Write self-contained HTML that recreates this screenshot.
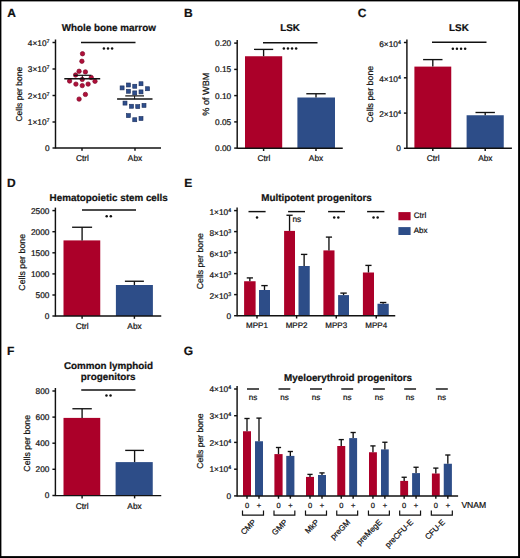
<!DOCTYPE html>
<html><head><meta charset="utf-8"><style>
html,body{margin:0;padding:0;background:#fff;}
svg{display:block;}
text{font-family:"Liberation Sans",sans-serif;fill:#111;stroke:#111;stroke-width:0.22px;text-rendering:geometricPrecision;}
</style></head><body>
<svg width="520" height="558" viewBox="0 0 520 558">
<rect width="520" height="558" fill="#fff"/>
<rect x="0" y="0" width="520" height="1.4" fill="#000"/>
<rect x="0" y="0" width="1.4" height="558" fill="#000"/>
<rect x="518.1" y="0" width="1.9" height="558" fill="#000"/>
<rect x="0" y="556.1" width="520" height="1.9" fill="#000"/>
<text x="7.3" y="16.5" font-size="12" text-anchor="start" font-weight="bold" >A</text>
<text x="108.85" y="31.2" font-size="9.85" text-anchor="middle" font-weight="bold" >Whole bone marrow</text>
<line x1="55.5" y1="39.5" x2="55.5" y2="148.6" stroke="#111" stroke-width="1.45"/>
<line x1="52.5" y1="42.5" x2="55.5" y2="42.5" stroke="#111" stroke-width="1.45"/>
<text x="49.5" y="45.7" font-size="8.3" text-anchor="end">4×10<tspan font-size="5.3" dy="-3.0">7</tspan></text>
<line x1="52.5" y1="69" x2="55.5" y2="69" stroke="#111" stroke-width="1.45"/>
<text x="49.5" y="72.2" font-size="8.3" text-anchor="end">3×10<tspan font-size="5.3" dy="-3.0">7</tspan></text>
<line x1="52.5" y1="95.5" x2="55.5" y2="95.5" stroke="#111" stroke-width="1.45"/>
<text x="49.5" y="98.7" font-size="8.3" text-anchor="end">2×10<tspan font-size="5.3" dy="-3.0">7</tspan></text>
<line x1="52.5" y1="122" x2="55.5" y2="122" stroke="#111" stroke-width="1.45"/>
<text x="49.5" y="125.2" font-size="8.3" text-anchor="end">1×10<tspan font-size="5.3" dy="-3.0">7</tspan></text>
<line x1="52.5" y1="148" x2="55.5" y2="148" stroke="#111" stroke-width="1.45"/>
<text x="49.5" y="150.9" font-size="8.3" text-anchor="end" font-weight="normal" >0</text>
<line x1="55.5" y1="148" x2="161" y2="148" stroke="#111" stroke-width="1.45"/>
<line x1="82" y1="148" x2="82" y2="150.8" stroke="#111" stroke-width="1.45"/>
<line x1="135" y1="148" x2="135" y2="150.8" stroke="#111" stroke-width="1.45"/>
<text x="82.5" y="160.9" font-size="8.3" text-anchor="middle" font-weight="normal" >Ctrl</text>
<text x="135" y="160.9" font-size="8.3" text-anchor="middle" font-weight="normal" >Abx</text>
<text x="0" y="0" font-size="8.5" text-anchor="middle" transform="translate(21.9,94.2) rotate(-90)">Cells per bone</text>
<line x1="81" y1="42.5" x2="135.5" y2="42.5" stroke="#111" stroke-width="1.45"/>
<circle cx="103.90" cy="48.4" r="1.25" fill="#111"/>
<circle cx="108.00" cy="48.4" r="1.25" fill="#111"/>
<circle cx="112.10" cy="48.4" r="1.25" fill="#111"/>
<circle cx="82.5" cy="53.75" r="2.2" fill="#b0103a" stroke="#80082a" stroke-width="0.7"/>
<circle cx="81.9" cy="61.25" r="2.2" fill="#b0103a" stroke="#80082a" stroke-width="0.7"/>
<circle cx="79.1" cy="71.25" r="2.2" fill="#b0103a" stroke="#80082a" stroke-width="0.7"/>
<circle cx="85.4" cy="71.9" r="2.2" fill="#b0103a" stroke="#80082a" stroke-width="0.7"/>
<circle cx="75.6" cy="75" r="2.2" fill="#b0103a" stroke="#80082a" stroke-width="0.7"/>
<circle cx="91.25" cy="77.5" r="2.2" fill="#b0103a" stroke="#80082a" stroke-width="0.7"/>
<circle cx="69.6" cy="81" r="2.2" fill="#b0103a" stroke="#80082a" stroke-width="0.7"/>
<circle cx="82.25" cy="79.4" r="2.2" fill="#b0103a" stroke="#80082a" stroke-width="0.7"/>
<circle cx="95" cy="81.25" r="2.2" fill="#b0103a" stroke="#80082a" stroke-width="0.7"/>
<circle cx="75.9" cy="84.1" r="2.2" fill="#b0103a" stroke="#80082a" stroke-width="0.7"/>
<circle cx="82.25" cy="85.6" r="2.2" fill="#b0103a" stroke="#80082a" stroke-width="0.7"/>
<circle cx="88.1" cy="84.1" r="2.2" fill="#b0103a" stroke="#80082a" stroke-width="0.7"/>
<circle cx="85.4" cy="94.4" r="2.2" fill="#b0103a" stroke="#80082a" stroke-width="0.7"/>
<circle cx="79.1" cy="99.1" r="2.2" fill="#b0103a" stroke="#80082a" stroke-width="0.7"/>
<rect x="120.10" y="85.90" width="4.0" height="4.0" fill="#2e4e8c" stroke="#1c2f5c" stroke-width="0.6"/>
<rect x="126.40" y="83.00" width="4.0" height="4.0" fill="#2e4e8c" stroke="#1c2f5c" stroke-width="0.6"/>
<rect x="132.75" y="84.25" width="4.0" height="4.0" fill="#2e4e8c" stroke="#1c2f5c" stroke-width="0.6"/>
<rect x="139.00" y="81.75" width="4.0" height="4.0" fill="#2e4e8c" stroke="#1c2f5c" stroke-width="0.6"/>
<rect x="145.50" y="86.75" width="4.0" height="4.0" fill="#2e4e8c" stroke="#1c2f5c" stroke-width="0.6"/>
<rect x="126.40" y="89.25" width="4.0" height="4.0" fill="#2e4e8c" stroke="#1c2f5c" stroke-width="0.6"/>
<rect x="132.75" y="90.90" width="4.0" height="4.0" fill="#2e4e8c" stroke="#1c2f5c" stroke-width="0.6"/>
<rect x="139.00" y="89.90" width="4.0" height="4.0" fill="#2e4e8c" stroke="#1c2f5c" stroke-width="0.6"/>
<rect x="123.00" y="101.10" width="4.0" height="4.0" fill="#2e4e8c" stroke="#1c2f5c" stroke-width="0.6"/>
<rect x="129.50" y="104.25" width="4.0" height="4.0" fill="#2e4e8c" stroke="#1c2f5c" stroke-width="0.6"/>
<rect x="135.75" y="104.60" width="4.0" height="4.0" fill="#2e4e8c" stroke="#1c2f5c" stroke-width="0.6"/>
<rect x="142.00" y="103.40" width="4.0" height="4.0" fill="#2e4e8c" stroke="#1c2f5c" stroke-width="0.6"/>
<rect x="126.40" y="113.60" width="4.0" height="4.0" fill="#2e4e8c" stroke="#1c2f5c" stroke-width="0.6"/>
<rect x="132.75" y="117.75" width="4.0" height="4.0" fill="#2e4e8c" stroke="#1c2f5c" stroke-width="0.6"/>
<rect x="139.00" y="116.50" width="4.0" height="4.0" fill="#2e4e8c" stroke="#1c2f5c" stroke-width="0.6"/>
<line x1="64.3" y1="78.7" x2="100.2" y2="78.7" stroke="#111" stroke-width="1.5"/>
<line x1="74" y1="75.3" x2="91.2" y2="75.3" stroke="#111" stroke-width="1.2"/>
<line x1="82.3" y1="75.3" x2="82.3" y2="78.7" stroke="#111" stroke-width="1.0"/>
<line x1="117.1" y1="99.1" x2="152.5" y2="99.1" stroke="#111" stroke-width="1.5"/>
<line x1="125.25" y1="95.9" x2="144" y2="95.9" stroke="#111" stroke-width="1.2"/>
<line x1="134.6" y1="95.9" x2="134.6" y2="99.1" stroke="#111" stroke-width="1.0"/>
<text x="184.05" y="16.5" font-size="12" text-anchor="start" font-weight="bold" >B</text>
<text x="290" y="31.2" font-size="9.85" text-anchor="middle" font-weight="bold" >LSK</text>
<line x1="237.2" y1="40.1" x2="237.2" y2="148.79999999999998" stroke="#111" stroke-width="1.45"/>
<line x1="234.2" y1="43.1" x2="237.2" y2="43.1" stroke="#111" stroke-width="1.45"/>
<text x="231.2" y="46.0" font-size="8.3" text-anchor="end" font-weight="normal" >0.20</text>
<line x1="234.2" y1="69.4" x2="237.2" y2="69.4" stroke="#111" stroke-width="1.45"/>
<text x="231.2" y="72.30000000000001" font-size="8.3" text-anchor="end" font-weight="normal" >0.15</text>
<line x1="234.2" y1="95.6" x2="237.2" y2="95.6" stroke="#111" stroke-width="1.45"/>
<text x="231.2" y="98.5" font-size="8.3" text-anchor="end" font-weight="normal" >0.10</text>
<line x1="234.2" y1="121.9" x2="237.2" y2="121.9" stroke="#111" stroke-width="1.45"/>
<text x="231.2" y="124.80000000000001" font-size="8.3" text-anchor="end" font-weight="normal" >0.05</text>
<line x1="234.2" y1="148.1" x2="237.2" y2="148.1" stroke="#111" stroke-width="1.45"/>
<text x="231.2" y="151.0" font-size="8.3" text-anchor="end" font-weight="normal" >0.00</text>
<rect x="245" y="56.25" width="37.20" height="91.95" fill="#ab0029"/>
<rect x="297.4" y="97.5" width="37.60" height="50.70" fill="#2d4d88"/>
<line x1="263.6" y1="56.25" x2="263.6" y2="49.4" stroke="#111" stroke-width="1.35"/>
<line x1="254.00000000000003" y1="49.4" x2="273.20000000000005" y2="49.4" stroke="#111" stroke-width="1.35"/>
<line x1="316" y1="97.5" x2="316" y2="93.75" stroke="#111" stroke-width="1.35"/>
<line x1="306.3" y1="93.75" x2="325.7" y2="93.75" stroke="#111" stroke-width="1.35"/>
<line x1="237.2" y1="148.2" x2="342.75" y2="148.2" stroke="#111" stroke-width="1.45"/>
<line x1="263.6" y1="148.2" x2="263.6" y2="151.0" stroke="#111" stroke-width="1.45"/>
<line x1="316" y1="148.2" x2="316" y2="151.0" stroke="#111" stroke-width="1.45"/>
<text x="264.0" y="161.0" font-size="8.3" text-anchor="middle" font-weight="normal" >Ctrl</text>
<text x="316" y="161.0" font-size="8.3" text-anchor="middle" font-weight="normal" >Abx</text>
<text x="0" y="0" font-size="9.1" text-anchor="middle" transform="translate(209.2,94.2) rotate(-90)">% of WBM</text>
<line x1="263" y1="42.75" x2="317.5" y2="42.75" stroke="#111" stroke-width="1.45"/>
<circle cx="283.85" cy="48.5" r="1.25" fill="#111"/>
<circle cx="287.95" cy="48.5" r="1.25" fill="#111"/>
<circle cx="292.05" cy="48.5" r="1.25" fill="#111"/>
<circle cx="296.15" cy="48.5" r="1.25" fill="#111"/>
<text x="357.85" y="16.5" font-size="12" text-anchor="start" font-weight="bold" >C</text>
<text x="458.9" y="31.2" font-size="9.85" text-anchor="middle" font-weight="bold" >LSK</text>
<line x1="406.9" y1="39.5" x2="406.9" y2="148.9" stroke="#111" stroke-width="1.45"/>
<line x1="403.9" y1="42.5" x2="406.9" y2="42.5" stroke="#111" stroke-width="1.45"/>
<text x="400.9" y="46.6" font-size="8.3" text-anchor="end">6×10<tspan font-size="5.3" dy="-3.0">4</tspan></text>
<line x1="403.9" y1="77.8" x2="406.9" y2="77.8" stroke="#111" stroke-width="1.45"/>
<text x="400.9" y="81.9" font-size="8.3" text-anchor="end">4×10<tspan font-size="5.3" dy="-3.0">4</tspan></text>
<line x1="403.9" y1="113.1" x2="406.9" y2="113.1" stroke="#111" stroke-width="1.45"/>
<text x="400.9" y="117.2" font-size="8.3" text-anchor="end">2×10<tspan font-size="5.3" dy="-3.0">4</tspan></text>
<line x1="403.9" y1="148.3" x2="406.9" y2="148.3" stroke="#111" stroke-width="1.45"/>
<text x="400.9" y="151.20000000000002" font-size="8.3" text-anchor="end" font-weight="normal" >0</text>
<rect x="414.4" y="66.6" width="36.85" height="81.70" fill="#ab0029"/>
<rect x="466.6" y="115.25" width="37.15" height="33.05" fill="#2d4d88"/>
<line x1="432.8" y1="66.6" x2="432.8" y2="59.6" stroke="#111" stroke-width="1.35"/>
<line x1="423.1" y1="59.6" x2="442.5" y2="59.6" stroke="#111" stroke-width="1.35"/>
<line x1="485.2" y1="115.25" x2="485.2" y2="112.5" stroke="#111" stroke-width="1.35"/>
<line x1="475.5" y1="112.5" x2="494.9" y2="112.5" stroke="#111" stroke-width="1.35"/>
<line x1="406.9" y1="148.3" x2="511.9" y2="148.3" stroke="#111" stroke-width="1.45"/>
<line x1="432.8" y1="148.3" x2="432.8" y2="151.10000000000002" stroke="#111" stroke-width="1.45"/>
<line x1="485.2" y1="148.3" x2="485.2" y2="151.10000000000002" stroke="#111" stroke-width="1.45"/>
<text x="433.2" y="161.0" font-size="8.3" text-anchor="middle" font-weight="normal" >Ctrl</text>
<text x="485.3" y="161.0" font-size="8.3" text-anchor="middle" font-weight="normal" >Abx</text>
<text x="0" y="0" font-size="8.8" text-anchor="middle" transform="translate(373.3,94.2) rotate(-90)">Cells per bone</text>
<line x1="432" y1="42.3" x2="486.5" y2="42.3" stroke="#111" stroke-width="1.45"/>
<circle cx="452.85" cy="48.75" r="1.25" fill="#111"/>
<circle cx="456.95" cy="48.75" r="1.25" fill="#111"/>
<circle cx="461.05" cy="48.75" r="1.25" fill="#111"/>
<circle cx="465.15" cy="48.75" r="1.25" fill="#111"/>
<text x="7.0" y="186.6" font-size="12" text-anchor="start" font-weight="bold" >D</text>
<text x="108.7" y="201" font-size="9.85" text-anchor="middle" font-weight="bold" >Hematopoietic stem cells</text>
<line x1="55.4" y1="207.6" x2="55.4" y2="316.6" stroke="#111" stroke-width="1.45"/>
<line x1="52.4" y1="210.6" x2="55.4" y2="210.6" stroke="#111" stroke-width="1.45"/>
<text x="49.4" y="213.5" font-size="8.3" text-anchor="end" font-weight="normal" >2500</text>
<line x1="52.4" y1="231.7" x2="55.4" y2="231.7" stroke="#111" stroke-width="1.45"/>
<text x="49.4" y="234.6" font-size="8.3" text-anchor="end" font-weight="normal" >2000</text>
<line x1="52.4" y1="252.8" x2="55.4" y2="252.8" stroke="#111" stroke-width="1.45"/>
<text x="49.4" y="255.70000000000002" font-size="8.3" text-anchor="end" font-weight="normal" >1500</text>
<line x1="52.4" y1="273.9" x2="55.4" y2="273.9" stroke="#111" stroke-width="1.45"/>
<text x="49.4" y="276.79999999999995" font-size="8.3" text-anchor="end" font-weight="normal" >1000</text>
<line x1="52.4" y1="295" x2="55.4" y2="295" stroke="#111" stroke-width="1.45"/>
<text x="49.4" y="297.9" font-size="8.3" text-anchor="end" font-weight="normal" >500</text>
<line x1="52.4" y1="316" x2="55.4" y2="316" stroke="#111" stroke-width="1.45"/>
<text x="49.4" y="318.9" font-size="8.3" text-anchor="end" font-weight="normal" >0</text>
<rect x="63.5" y="240.4" width="36.75" height="75.60" fill="#ab0029"/>
<rect x="115.9" y="285" width="37.00" height="31.00" fill="#2d4d88"/>
<line x1="82.1" y1="240.4" x2="82.1" y2="227.25" stroke="#111" stroke-width="1.35"/>
<line x1="72.1" y1="227.25" x2="92.1" y2="227.25" stroke="#111" stroke-width="1.35"/>
<line x1="134.4" y1="285" x2="134.4" y2="281.25" stroke="#111" stroke-width="1.35"/>
<line x1="124.9" y1="281.25" x2="143.9" y2="281.25" stroke="#111" stroke-width="1.35"/>
<line x1="55.4" y1="316" x2="161.25" y2="316" stroke="#111" stroke-width="1.45"/>
<line x1="82.1" y1="316" x2="82.1" y2="318.8" stroke="#111" stroke-width="1.45"/>
<line x1="134.4" y1="316" x2="134.4" y2="318.8" stroke="#111" stroke-width="1.45"/>
<text x="82.2" y="329.0" font-size="8.3" text-anchor="middle" font-weight="normal" >Ctrl</text>
<text x="134.5" y="329.0" font-size="8.3" text-anchor="middle" font-weight="normal" >Abx</text>
<text x="0" y="0" font-size="8.8" text-anchor="middle" transform="translate(25.2,262.3) rotate(-90)">Cells per bone</text>
<line x1="82" y1="210" x2="136" y2="210" stroke="#111" stroke-width="1.45"/>
<circle cx="106.70" cy="216.25" r="1.25" fill="#111"/>
<circle cx="110.80" cy="216.25" r="1.25" fill="#111"/>
<text x="184.25" y="186.7" font-size="12" text-anchor="start" font-weight="bold" >E</text>
<text x="316.5" y="201.25" font-size="9.85" text-anchor="middle" font-weight="bold" >Multipotent progenitors</text>
<line x1="237.1" y1="207.6" x2="237.1" y2="316.3" stroke="#111" stroke-width="1.45"/>
<line x1="234.1" y1="210.6" x2="237.1" y2="210.6" stroke="#111" stroke-width="1.45"/>
<text x="231.1" y="214.7" font-size="8.3" text-anchor="end">1×10<tspan font-size="5.3" dy="-3.0">4</tspan></text>
<line x1="234.1" y1="231.6" x2="237.1" y2="231.6" stroke="#111" stroke-width="1.45"/>
<text x="231.1" y="235.7" font-size="8.3" text-anchor="end">8×10<tspan font-size="5.3" dy="-3.0">3</tspan></text>
<line x1="234.1" y1="252.6" x2="237.1" y2="252.6" stroke="#111" stroke-width="1.45"/>
<text x="231.1" y="256.7" font-size="8.3" text-anchor="end">6×10<tspan font-size="5.3" dy="-3.0">3</tspan></text>
<line x1="234.1" y1="273.6" x2="237.1" y2="273.6" stroke="#111" stroke-width="1.45"/>
<text x="231.1" y="277.7" font-size="8.3" text-anchor="end">4×10<tspan font-size="5.3" dy="-3.0">3</tspan></text>
<line x1="234.1" y1="294.6" x2="237.1" y2="294.6" stroke="#111" stroke-width="1.45"/>
<text x="231.1" y="298.7" font-size="8.3" text-anchor="end">2×10<tspan font-size="5.3" dy="-3.0">3</tspan></text>
<line x1="234.1" y1="315.7" x2="237.1" y2="315.7" stroke="#111" stroke-width="1.45"/>
<text x="231.1" y="318.59999999999997" font-size="8.3" text-anchor="end" font-weight="normal" >0</text>
<rect x="244.1" y="281.25" width="11.50" height="34.45" fill="#ab0029"/>
<rect x="259" y="290" width="11.00" height="25.70" fill="#2d4d88"/>
<line x1="249.85" y1="281.25" x2="249.85" y2="277.9" stroke="#111" stroke-width="1.35"/>
<line x1="246.75" y1="277.9" x2="252.95" y2="277.9" stroke="#111" stroke-width="1.35"/>
<line x1="264.5" y1="290" x2="264.5" y2="285.6" stroke="#111" stroke-width="1.35"/>
<line x1="261.3" y1="285.6" x2="267.7" y2="285.6" stroke="#111" stroke-width="1.35"/>
<rect x="284.1" y="230.9" width="10.90" height="84.80" fill="#ab0029"/>
<rect x="298.5" y="266" width="11.25" height="49.70" fill="#2d4d88"/>
<line x1="289.55" y1="230.9" x2="289.55" y2="215.25" stroke="#111" stroke-width="1.35"/>
<line x1="286.45" y1="215.25" x2="292.65000000000003" y2="215.25" stroke="#111" stroke-width="1.35"/>
<line x1="304.125" y1="266" x2="304.125" y2="254.4" stroke="#111" stroke-width="1.35"/>
<line x1="300.925" y1="254.4" x2="307.325" y2="254.4" stroke="#111" stroke-width="1.35"/>
<rect x="323.4" y="250.4" width="11.10" height="65.30" fill="#ab0029"/>
<rect x="338.1" y="295.1" width="10.90" height="20.60" fill="#2d4d88"/>
<line x1="328.95" y1="250.4" x2="328.95" y2="237.1" stroke="#111" stroke-width="1.35"/>
<line x1="325.84999999999997" y1="237.1" x2="332.05" y2="237.1" stroke="#111" stroke-width="1.35"/>
<line x1="343.55" y1="295.1" x2="343.55" y2="293.1" stroke="#111" stroke-width="1.35"/>
<line x1="340.35" y1="293.1" x2="346.75" y2="293.1" stroke="#111" stroke-width="1.35"/>
<rect x="362.9" y="272.5" width="11.10" height="43.20" fill="#ab0029"/>
<rect x="377.5" y="303.75" width="11.25" height="11.95" fill="#2d4d88"/>
<line x1="368.45" y1="272.5" x2="368.45" y2="265.4" stroke="#111" stroke-width="1.35"/>
<line x1="365.34999999999997" y1="265.4" x2="371.55" y2="265.4" stroke="#111" stroke-width="1.35"/>
<line x1="383.125" y1="303.75" x2="383.125" y2="302.5" stroke="#111" stroke-width="1.35"/>
<line x1="379.925" y1="302.5" x2="386.325" y2="302.5" stroke="#111" stroke-width="1.35"/>
<line x1="237.1" y1="315.7" x2="395.25" y2="315.7" stroke="#111" stroke-width="1.45"/>
<line x1="257" y1="315.7" x2="257" y2="318.5" stroke="#111" stroke-width="1.45"/>
<line x1="296.6" y1="315.7" x2="296.6" y2="318.5" stroke="#111" stroke-width="1.45"/>
<line x1="336.25" y1="315.7" x2="336.25" y2="318.5" stroke="#111" stroke-width="1.45"/>
<line x1="376.25" y1="315.7" x2="376.25" y2="318.5" stroke="#111" stroke-width="1.45"/>
<text x="257" y="328.1" font-size="8" text-anchor="middle" font-weight="normal" >MPP1</text>
<text x="296.6" y="328.1" font-size="8" text-anchor="middle" font-weight="normal" >MPP2</text>
<text x="336.25" y="328.1" font-size="8" text-anchor="middle" font-weight="normal" >MPP3</text>
<text x="376.25" y="328.1" font-size="8" text-anchor="middle" font-weight="normal" >MPP4</text>
<line x1="248.5" y1="211.6" x2="265.6" y2="211.6" stroke="#111" stroke-width="1.45"/>
<line x1="288.1" y1="211.6" x2="305" y2="211.6" stroke="#111" stroke-width="1.45"/>
<line x1="328.1" y1="211.6" x2="345" y2="211.6" stroke="#111" stroke-width="1.45"/>
<line x1="367.1" y1="211.6" x2="384.4" y2="211.6" stroke="#111" stroke-width="1.45"/>
<circle cx="257.00" cy="217.5" r="1.25" fill="#111"/>
<text x="292.4" y="221.7" font-size="8.3" text-anchor="start" font-weight="normal" >ns</text>
<circle cx="334.20" cy="217.5" r="1.25" fill="#111"/>
<circle cx="338.30" cy="217.5" r="1.25" fill="#111"/>
<circle cx="373.55" cy="217.5" r="1.25" fill="#111"/>
<circle cx="377.65" cy="217.5" r="1.25" fill="#111"/>
<rect x="398.4" y="212.1" width="12.20" height="8.15" fill="#ab0029"/>
<rect x="398.4" y="227.1" width="12.20" height="7.90" fill="#2d4d88"/>
<text x="413.75" y="218.2" font-size="8" text-anchor="start" font-weight="normal" >Ctrl</text>
<text x="413.75" y="233.4" font-size="8" text-anchor="start" font-weight="normal" >Abx</text>
<text x="0" y="0" font-size="8.7" text-anchor="middle" transform="translate(203.0,261.2) rotate(-90)">Cells per bone</text>
<text x="7.0" y="354.5" font-size="12" text-anchor="start" font-weight="bold" >F</text>
<text x="108.5" y="369.4" font-size="9.85" text-anchor="middle" font-weight="bold" >Common lymphoid</text>
<text x="108.2" y="380" font-size="9.85" text-anchor="middle" font-weight="bold" >progenitors</text>
<line x1="55.4" y1="388" x2="55.4" y2="496.1" stroke="#111" stroke-width="1.45"/>
<line x1="52.4" y1="391" x2="55.4" y2="391" stroke="#111" stroke-width="1.45"/>
<text x="49.4" y="393.9" font-size="8.3" text-anchor="end" font-weight="normal" >800</text>
<line x1="52.4" y1="417.1" x2="55.4" y2="417.1" stroke="#111" stroke-width="1.45"/>
<text x="49.4" y="420.0" font-size="8.3" text-anchor="end" font-weight="normal" >600</text>
<line x1="52.4" y1="443.2" x2="55.4" y2="443.2" stroke="#111" stroke-width="1.45"/>
<text x="49.4" y="446.09999999999997" font-size="8.3" text-anchor="end" font-weight="normal" >400</text>
<line x1="52.4" y1="469.3" x2="55.4" y2="469.3" stroke="#111" stroke-width="1.45"/>
<text x="49.4" y="472.2" font-size="8.3" text-anchor="end" font-weight="normal" >200</text>
<line x1="52.4" y1="495.5" x2="55.4" y2="495.5" stroke="#111" stroke-width="1.45"/>
<text x="49.4" y="498.4" font-size="8.3" text-anchor="end" font-weight="normal" >0</text>
<rect x="63.5" y="417.9" width="36.75" height="77.60" fill="#ab0029"/>
<rect x="115.6" y="462.1" width="37.15" height="33.40" fill="#2d4d88"/>
<line x1="82.1" y1="417.9" x2="82.1" y2="408.75" stroke="#111" stroke-width="1.35"/>
<line x1="72.39999999999999" y1="408.75" x2="91.8" y2="408.75" stroke="#111" stroke-width="1.35"/>
<line x1="134.6" y1="462.1" x2="134.6" y2="450.4" stroke="#111" stroke-width="1.35"/>
<line x1="125.19999999999999" y1="450.4" x2="144.0" y2="450.4" stroke="#111" stroke-width="1.35"/>
<line x1="55.4" y1="495.6" x2="161.25" y2="495.6" stroke="#111" stroke-width="1.45"/>
<line x1="82.1" y1="495.6" x2="82.1" y2="498.40000000000003" stroke="#111" stroke-width="1.45"/>
<line x1="134.6" y1="495.6" x2="134.6" y2="498.40000000000003" stroke="#111" stroke-width="1.45"/>
<text x="82.2" y="508.9" font-size="8.3" text-anchor="middle" font-weight="normal" >Ctrl</text>
<text x="134.5" y="508.9" font-size="8.3" text-anchor="middle" font-weight="normal" >Abx</text>
<text x="0" y="0" font-size="8.8" text-anchor="middle" transform="translate(30.2,443.3) rotate(-90)">Cells per bone</text>
<line x1="81.25" y1="390" x2="135.5" y2="390" stroke="#111" stroke-width="1.45"/>
<circle cx="106.45" cy="395.5" r="1.25" fill="#111"/>
<circle cx="110.55" cy="395.5" r="1.25" fill="#111"/>
<text x="183.7" y="354.5" font-size="12" text-anchor="start" font-weight="bold" >G</text>
<text x="348" y="380.8" font-size="9.85" text-anchor="middle" font-weight="bold" >Myeloerythroid progenitors</text>
<line x1="237.1" y1="386" x2="237.1" y2="496.5" stroke="#111" stroke-width="1.45"/>
<line x1="234.1" y1="389" x2="237.1" y2="389" stroke="#111" stroke-width="1.45"/>
<text x="231.1" y="392.2" font-size="8.3" text-anchor="end">4×10<tspan font-size="5.3" dy="-3.0">4</tspan></text>
<line x1="234.1" y1="415.7" x2="237.1" y2="415.7" stroke="#111" stroke-width="1.45"/>
<text x="231.1" y="418.9" font-size="8.3" text-anchor="end">3×10<tspan font-size="5.3" dy="-3.0">4</tspan></text>
<line x1="234.1" y1="442.4" x2="237.1" y2="442.4" stroke="#111" stroke-width="1.45"/>
<text x="231.1" y="445.59999999999997" font-size="8.3" text-anchor="end">2×10<tspan font-size="5.3" dy="-3.0">4</tspan></text>
<line x1="234.1" y1="469.2" x2="237.1" y2="469.2" stroke="#111" stroke-width="1.45"/>
<text x="231.1" y="472.4" font-size="8.3" text-anchor="end">1×10<tspan font-size="5.3" dy="-3.0">4</tspan></text>
<line x1="234.1" y1="495.9" x2="237.1" y2="495.9" stroke="#111" stroke-width="1.45"/>
<text x="231.1" y="498.79999999999995" font-size="8.3" text-anchor="end" font-weight="normal" >0</text>
<rect x="243" y="431.25" width="8.00" height="64.65" fill="#ab0029"/>
<rect x="255" y="441.25" width="8.00" height="54.65" fill="#2d4d88"/>
<line x1="247.0" y1="431.25" x2="247.0" y2="418.5" stroke="#111" stroke-width="1.35"/>
<line x1="244.4" y1="418.5" x2="249.6" y2="418.5" stroke="#111" stroke-width="1.35"/>
<line x1="259.0" y1="441.25" x2="259.0" y2="418.1" stroke="#111" stroke-width="1.35"/>
<line x1="256.4" y1="418.1" x2="261.6" y2="418.1" stroke="#111" stroke-width="1.35"/>
<text x="247.0" y="507.8" font-size="7.5" text-anchor="middle" font-weight="normal" >0</text>
<text x="259.0" y="507.9" font-size="7.5" text-anchor="middle" font-weight="normal" >+</text>
<path d="M242.5,510.6 V515.1 H263.5 V510.6" fill="none" stroke="#111" stroke-width="1.2"/>
<line x1="247.0" y1="389" x2="259.0" y2="389" stroke="#111" stroke-width="1.45"/>
<text x="253.0" y="399.7" font-size="8.1" text-anchor="middle" font-weight="normal" >ns</text>
<text x="0" y="0" font-size="8" text-anchor="end" transform="translate(256.6,522.8) rotate(-45)">CMP</text>
<rect x="274.4" y="454.1" width="8.20" height="41.80" fill="#ab0029"/>
<rect x="286.25" y="455.9" width="8.15" height="40.00" fill="#2d4d88"/>
<line x1="278.5" y1="454.1" x2="278.5" y2="447.5" stroke="#111" stroke-width="1.35"/>
<line x1="275.9" y1="447.5" x2="281.1" y2="447.5" stroke="#111" stroke-width="1.35"/>
<line x1="290.325" y1="455.9" x2="290.325" y2="451.5" stroke="#111" stroke-width="1.35"/>
<line x1="287.72499999999997" y1="451.5" x2="292.925" y2="451.5" stroke="#111" stroke-width="1.35"/>
<text x="278.5" y="507.8" font-size="7.5" text-anchor="middle" font-weight="normal" >0</text>
<text x="290.325" y="507.9" font-size="7.5" text-anchor="middle" font-weight="normal" >+</text>
<path d="M274.0,510.6 V515.1 H294.825 V510.6" fill="none" stroke="#111" stroke-width="1.2"/>
<line x1="278.5" y1="389" x2="290.325" y2="389" stroke="#111" stroke-width="1.45"/>
<text x="284.4125" y="399.7" font-size="8.1" text-anchor="middle" font-weight="normal" >ns</text>
<text x="0" y="0" font-size="8" text-anchor="end" transform="translate(288.01250000000005,522.8) rotate(-45)">GMP</text>
<rect x="306" y="476.9" width="8.00" height="19.00" fill="#ab0029"/>
<rect x="318" y="475" width="8.00" height="20.90" fill="#2d4d88"/>
<line x1="310.0" y1="476.9" x2="310.0" y2="474.4" stroke="#111" stroke-width="1.35"/>
<line x1="307.4" y1="474.4" x2="312.6" y2="474.4" stroke="#111" stroke-width="1.35"/>
<line x1="322.0" y1="475" x2="322.0" y2="472.9" stroke="#111" stroke-width="1.35"/>
<line x1="319.4" y1="472.9" x2="324.6" y2="472.9" stroke="#111" stroke-width="1.35"/>
<text x="310.0" y="507.8" font-size="7.5" text-anchor="middle" font-weight="normal" >0</text>
<text x="322.0" y="507.9" font-size="7.5" text-anchor="middle" font-weight="normal" >+</text>
<path d="M305.5,510.6 V515.1 H326.5 V510.6" fill="none" stroke="#111" stroke-width="1.2"/>
<line x1="310.0" y1="389" x2="322.0" y2="389" stroke="#111" stroke-width="1.45"/>
<text x="316.0" y="399.7" font-size="8.1" text-anchor="middle" font-weight="normal" >ns</text>
<text x="0" y="0" font-size="8" text-anchor="end" transform="translate(319.6,522.8) rotate(-45)">MkP</text>
<rect x="337.25" y="446" width="8.00" height="49.90" fill="#ab0029"/>
<rect x="349.2" y="438.1" width="7.90" height="57.80" fill="#2d4d88"/>
<line x1="341.25" y1="446" x2="341.25" y2="439.6" stroke="#111" stroke-width="1.35"/>
<line x1="338.65" y1="439.6" x2="343.85" y2="439.6" stroke="#111" stroke-width="1.35"/>
<line x1="353.15" y1="438.1" x2="353.15" y2="432.5" stroke="#111" stroke-width="1.35"/>
<line x1="350.54999999999995" y1="432.5" x2="355.75" y2="432.5" stroke="#111" stroke-width="1.35"/>
<text x="341.25" y="507.8" font-size="7.5" text-anchor="middle" font-weight="normal" >0</text>
<text x="353.15" y="507.9" font-size="7.5" text-anchor="middle" font-weight="normal" >+</text>
<path d="M336.75,510.6 V515.1 H357.65 V510.6" fill="none" stroke="#111" stroke-width="1.2"/>
<line x1="341.25" y1="389" x2="353.15" y2="389" stroke="#111" stroke-width="1.45"/>
<text x="347.2" y="399.7" font-size="8.1" text-anchor="middle" font-weight="normal" >ns</text>
<text x="0" y="0" font-size="8" text-anchor="end" transform="translate(350.8,522.8) rotate(-45)">preGM</text>
<rect x="369" y="452.25" width="7.90" height="43.65" fill="#ab0029"/>
<rect x="381" y="449.4" width="7.75" height="46.50" fill="#2d4d88"/>
<line x1="372.95" y1="452.25" x2="372.95" y2="445.9" stroke="#111" stroke-width="1.35"/>
<line x1="370.34999999999997" y1="445.9" x2="375.55" y2="445.9" stroke="#111" stroke-width="1.35"/>
<line x1="384.875" y1="449.4" x2="384.875" y2="442.25" stroke="#111" stroke-width="1.35"/>
<line x1="382.275" y1="442.25" x2="387.475" y2="442.25" stroke="#111" stroke-width="1.35"/>
<text x="372.95" y="507.8" font-size="7.5" text-anchor="middle" font-weight="normal" >0</text>
<text x="384.875" y="507.9" font-size="7.5" text-anchor="middle" font-weight="normal" >+</text>
<path d="M368.45,510.6 V515.1 H389.375 V510.6" fill="none" stroke="#111" stroke-width="1.2"/>
<line x1="372.95" y1="389" x2="384.875" y2="389" stroke="#111" stroke-width="1.45"/>
<text x="378.9125" y="399.7" font-size="8.1" text-anchor="middle" font-weight="normal" >ns</text>
<text x="0" y="0" font-size="8" text-anchor="end" transform="translate(382.51250000000005,522.8) rotate(-45)">preMegE</text>
<rect x="400.25" y="480.9" width="7.85" height="15.00" fill="#ab0029"/>
<rect x="412.1" y="473.1" width="7.90" height="22.80" fill="#2d4d88"/>
<line x1="404.175" y1="480.9" x2="404.175" y2="477.25" stroke="#111" stroke-width="1.35"/>
<line x1="401.575" y1="477.25" x2="406.77500000000003" y2="477.25" stroke="#111" stroke-width="1.35"/>
<line x1="416.05" y1="473.1" x2="416.05" y2="467.25" stroke="#111" stroke-width="1.35"/>
<line x1="413.45" y1="467.25" x2="418.65000000000003" y2="467.25" stroke="#111" stroke-width="1.35"/>
<text x="404.175" y="507.8" font-size="7.5" text-anchor="middle" font-weight="normal" >0</text>
<text x="416.05" y="507.9" font-size="7.5" text-anchor="middle" font-weight="normal" >+</text>
<path d="M399.675,510.6 V515.1 H420.55 V510.6" fill="none" stroke="#111" stroke-width="1.2"/>
<line x1="404.175" y1="389" x2="416.05" y2="389" stroke="#111" stroke-width="1.45"/>
<text x="410.1125" y="399.7" font-size="8.1" text-anchor="middle" font-weight="normal" >ns</text>
<text x="0" y="0" font-size="8" text-anchor="end" transform="translate(413.71250000000003,522.8) rotate(-45)">preCFU-E</text>
<rect x="431.9" y="473.5" width="7.85" height="22.40" fill="#ab0029"/>
<rect x="443.75" y="463.75" width="8.15" height="32.15" fill="#2d4d88"/>
<line x1="435.825" y1="473.5" x2="435.825" y2="468.1" stroke="#111" stroke-width="1.35"/>
<line x1="433.22499999999997" y1="468.1" x2="438.425" y2="468.1" stroke="#111" stroke-width="1.35"/>
<line x1="447.825" y1="463.75" x2="447.825" y2="455" stroke="#111" stroke-width="1.35"/>
<line x1="445.22499999999997" y1="455" x2="450.425" y2="455" stroke="#111" stroke-width="1.35"/>
<text x="435.825" y="507.8" font-size="7.5" text-anchor="middle" font-weight="normal" >0</text>
<text x="447.825" y="507.9" font-size="7.5" text-anchor="middle" font-weight="normal" >+</text>
<path d="M431.325,510.6 V515.1 H452.325 V510.6" fill="none" stroke="#111" stroke-width="1.2"/>
<line x1="435.825" y1="389" x2="447.825" y2="389" stroke="#111" stroke-width="1.45"/>
<text x="441.825" y="399.7" font-size="8.1" text-anchor="middle" font-weight="normal" >ns</text>
<text x="0" y="0" font-size="8" text-anchor="end" transform="translate(445.425,522.8) rotate(-45)">CFU-E</text>
<line x1="237.1" y1="495.9" x2="458.1" y2="495.9" stroke="#111" stroke-width="1.45"/>
<line x1="247.0" y1="495.9" x2="247.0" y2="498.7" stroke="#111" stroke-width="1.45"/>
<line x1="259.0" y1="495.9" x2="259.0" y2="498.7" stroke="#111" stroke-width="1.45"/>
<line x1="278.5" y1="495.9" x2="278.5" y2="498.7" stroke="#111" stroke-width="1.45"/>
<line x1="290.325" y1="495.9" x2="290.325" y2="498.7" stroke="#111" stroke-width="1.45"/>
<line x1="310.0" y1="495.9" x2="310.0" y2="498.7" stroke="#111" stroke-width="1.45"/>
<line x1="322.0" y1="495.9" x2="322.0" y2="498.7" stroke="#111" stroke-width="1.45"/>
<line x1="341.25" y1="495.9" x2="341.25" y2="498.7" stroke="#111" stroke-width="1.45"/>
<line x1="353.15" y1="495.9" x2="353.15" y2="498.7" stroke="#111" stroke-width="1.45"/>
<line x1="372.95" y1="495.9" x2="372.95" y2="498.7" stroke="#111" stroke-width="1.45"/>
<line x1="384.875" y1="495.9" x2="384.875" y2="498.7" stroke="#111" stroke-width="1.45"/>
<line x1="404.175" y1="495.9" x2="404.175" y2="498.7" stroke="#111" stroke-width="1.45"/>
<line x1="416.05" y1="495.9" x2="416.05" y2="498.7" stroke="#111" stroke-width="1.45"/>
<line x1="435.825" y1="495.9" x2="435.825" y2="498.7" stroke="#111" stroke-width="1.45"/>
<line x1="447.825" y1="495.9" x2="447.825" y2="498.7" stroke="#111" stroke-width="1.45"/>
<text x="461.4" y="508.2" font-size="8.6" text-anchor="start" font-weight="normal" >VNAM</text>
<text x="0" y="0" font-size="8.6" text-anchor="middle" transform="translate(203.4,441.1) rotate(-90)">Cells per bone</text>
</svg>
</body></html>
